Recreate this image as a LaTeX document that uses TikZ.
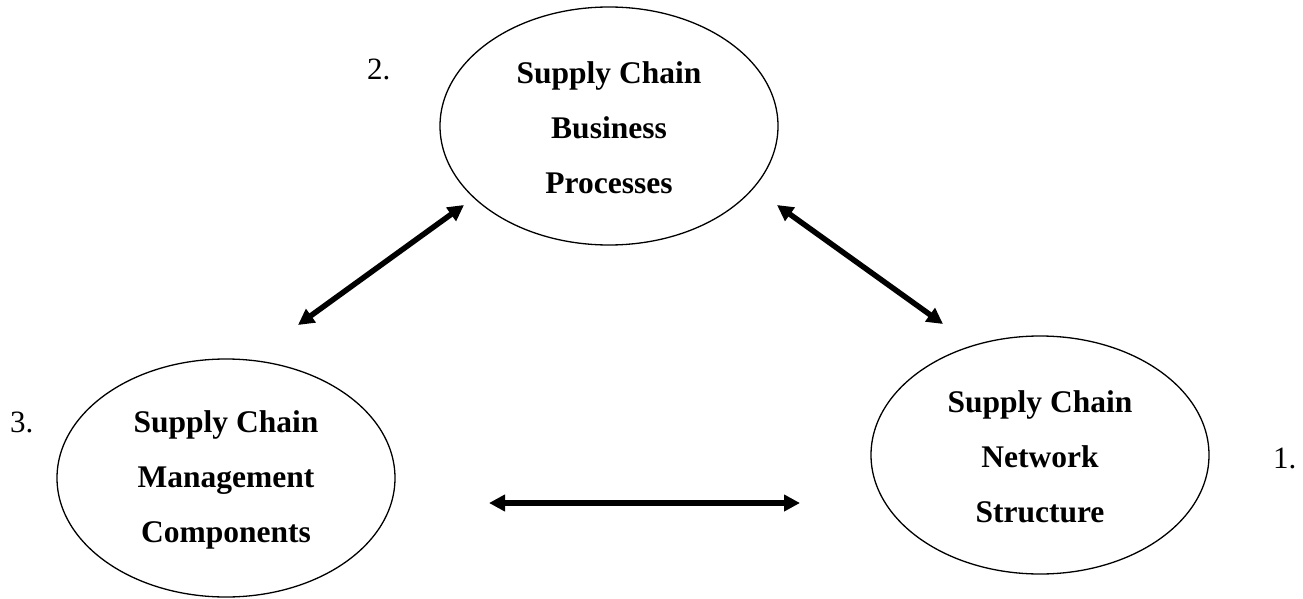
\documentclass[tikz,border=0pt]{standalone}
\usepackage{fontspec}
\setmainfont{Liberation Serif}
\usetikzlibrary{shapes.geometric,arrows.meta}
\tikzset{
  oval/.style={ellipse, draw, line width=1.3pt, minimum width=338pt, minimum height=238pt, inner sep=0pt},
  ovaltext/.style={align=center, font=\fontsize{31.5pt}{55pt}\selectfont\bfseries, inner sep=0pt, yshift=-2pt},
  numlabel/.style={anchor=base west, font=\fontsize{31pt}{36pt}\selectfont, inner sep=0pt},
  link/.style={line width=5.5pt, {Triangle[length=16pt,width=16pt]}-{Triangle[length=16pt,width=16pt]}}
}
\begin{document}
\begin{tikzpicture}[x=1pt,y=-1pt]
\useasboundingbox (0,0) rectangle (1303,599);
\node[oval] (top) at (609,126) {};
\node[oval] (left) at (226,478) {};
\node[oval] (right) at (1040,455) {};
\node[ovaltext] (toptext) at (top.center) {Supply Chain\\Business\\Processes};
\node[ovaltext] (lefttext) at (left.center) {Supply Chain\\Management\\Components};
\node[ovaltext] (righttext) at (right.center) {Supply Chain\\Network\\Structure};
\node[numlabel] (n2) at (367,80) {2.};
\node[numlabel] (n3) at (10,432) {3.};
\node[numlabel] (n1) at (1273,468) {1.};
\coordinate (a1s) at (298,325);
\coordinate (a1e) at (464,205);
\coordinate (a2s) at (777,205);
\coordinate (a2e) at (943,324);
\coordinate (a3s) at (489,503);
\coordinate (a3e) at (800,503);
\draw[link] (a1s) -- (a1e);
\draw[link] (a2s) -- (a2e);
\draw[link] (a3s) -- (a3e);
\end{tikzpicture}
\end{document}
